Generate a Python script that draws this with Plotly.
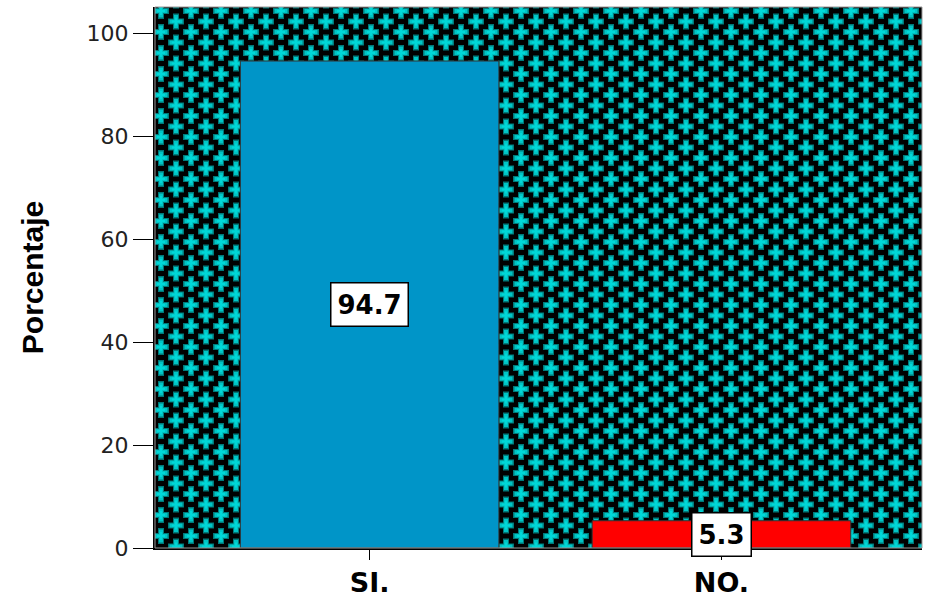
import base64
import plotly.graph_objects as go

categories = ["SI.", "NO."]
values = [94.7, 5.3]
bar_colors = ["#0095c8", "#ff0000"]
y_ticks = [0, 20, 40, 60, 80, 100]

# patterned plot-area background (black with staggered, soft teal crosses)
W, H = 767, 541
TW, TH = 30, 21
def plus(cx, cy, arm, th, col):
    return (f'<rect x="{cx-arm}" y="{cy-th/2}" width="{2*arm}" height="{th}" fill="{col}"/>'
            f'<rect x="{cx-th/2}" y="{cy-arm}" width="{th}" height="{2*arm}" fill="{col}"/>')
centers = [(0, 0), (TW, 0), (0, TH), (TW, TH), (TW / 2, TH / 2)]
tile = "".join(plus(x, y, 8, 6, "#007a7a") for x, y in centers)
tile += "".join(plus(x, y, 6.5, 4, "#00c4c4") for x, y in centers)
tile += "".join(plus(x, y, 4, 2, "#00d8d8") for x, y in centers)
svg = (f'<svg xmlns="http://www.w3.org/2000/svg" width="{W}" height="{H}">'
       f'<defs><pattern id="p" x="6" y="4" width="{TW}" height="{TH}" patternUnits="userSpaceOnUse">'
       f'<rect width="{TW}" height="{TH}" fill="black"/>' + tile +
       f'</pattern></defs><rect width="{W}" height="{H}" fill="url(#p)"/></svg>')
bg_src = "data:image/svg+xml;base64," + base64.b64encode(svg.encode()).decode()

fig = go.Figure()
fig.add_trace(go.Bar(
    x=categories, y=values, width=0.735,
    marker=dict(color=bar_colors, line=dict(color="#333333", width=1)),
    showlegend=False,
))

for c, v in zip(categories, values):
    fig.add_annotation(
        x=c, y=v / 2, text=f"<b>{v}</b>",
        showarrow=False, font=dict(family="DejaVu Sans", size=26, color="black"),
        bgcolor="white", bordercolor="black", borderwidth=1.5, borderpad=6,
    )

fig.add_layout_image(dict(source=bg_src, xref="paper", yref="paper", x=0, y=1,
                          sizex=1, sizey=1, sizing="stretch", layer="below",
                          xanchor="left", yanchor="top"))

fig.update_layout(
    width=927, height=601,
    margin=dict(l=155, r=5, t=7, b=53, autoexpand=False),
    paper_bgcolor="white", plot_bgcolor="rgba(0,0,0,0)",
    xaxis=dict(range=[-0.61, 1.57], showline=True, linecolor="black", automargin=False,
               linewidth=2, ticks="outside", ticklen=10, tickcolor="black",
               tickfont=dict(family="DejaVu Sans", size=27, color="black"),
               tickprefix="<b>", ticksuffix="</b>", showgrid=False, fixedrange=True),
    yaxis=dict(range=[0, 105.2], tickvals=y_ticks, showline=True, automargin=False,
               linecolor="black", linewidth=2, ticks="outside", ticklen=20,
               tickcolor="black", showgrid=False, zeroline=False, fixedrange=True,
               tickfont=dict(family="DejaVu Sans", size=22, color="#222222"),
               title=dict(text="<b>Porcentaje</b>", standoff=34,
                          font=dict(family="Liberation Sans Narrow, Liberation Sans, Arial", size=30, color="black"))),
)

fig.add_shape(type="rect", xref="paper", yref="paper", x0=0, x1=1, y0=0, y1=1,
              line=dict(color="#999999", width=1), layer="above")

fig.write_html("out.html", config={"displayModeBar": False},
               post_script="document.body.style.margin='0';")
